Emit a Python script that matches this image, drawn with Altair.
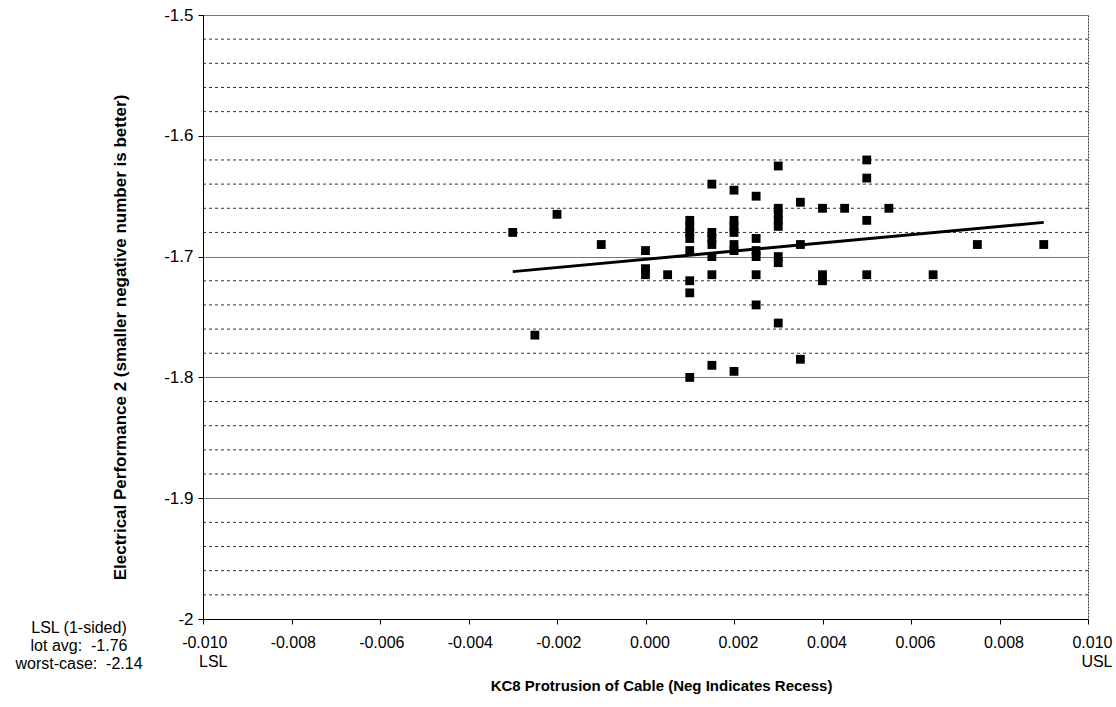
import altair as alt
import pandas as pd

# --- data -------------------------------------------------------------------
protrusion = [
    -0.003, -0.0025, -0.002, -0.001,
    0.000, 0.000, 0.000,
    0.0005,
    0.001, 0.001, 0.001, 0.001, 0.001, 0.001, 0.001, 0.001,
    0.0015, 0.0015, 0.0015, 0.0015, 0.0015, 0.0015, 0.0015,
    0.002, 0.002, 0.002, 0.002, 0.002, 0.002, 0.002,
    0.0025, 0.0025, 0.0025, 0.0025, 0.0025, 0.0025,
    0.003, 0.003, 0.003, 0.003, 0.003, 0.003, 0.003, 0.003,
    0.0035, 0.0035, 0.0035,
    0.004, 0.004, 0.004,
    0.0045,
    0.005, 0.005, 0.005, 0.005,
    0.0055,
    0.0065,
    0.0075,
    0.009,
]
performance = [
    -1.68, -1.765, -1.665, -1.69,
    -1.695, -1.71, -1.715,
    -1.715,
    -1.67, -1.675, -1.68, -1.685, -1.695, -1.72, -1.73, -1.80,
    -1.64, -1.68, -1.685, -1.69, -1.70, -1.715, -1.79,
    -1.645, -1.67, -1.675, -1.68, -1.69, -1.695, -1.795,
    -1.65, -1.685, -1.695, -1.70, -1.715, -1.74,
    -1.625, -1.66, -1.665, -1.67, -1.675, -1.70, -1.705, -1.755,
    -1.655, -1.69, -1.785,
    -1.66, -1.715, -1.72,
    -1.66,
    -1.62, -1.635, -1.67, -1.715,
    -1.66,
    -1.715,
    -1.69,
    -1.69,
]

x_ticks = [-0.010, -0.008, -0.006, -0.004, -0.002, 0.000, 0.002, 0.004, 0.006, 0.008, 0.010]
y_major = [-2.0, -1.9, -1.8, -1.7, -1.6, -1.5]
y_minor = [-1.98, -1.96, -1.94, -1.92, -1.88, -1.86, -1.84, -1.82,
           -1.78, -1.76, -1.74, -1.72, -1.68, -1.66, -1.64, -1.62,
           -1.58, -1.56, -1.54, -1.52]
spec_note = ["LSL (1-sided)", "lot avg: \u00a0-1.76", "worst-case: \u00a0-2.14"]

x_title = "KC8 Protrusion of Cable (Neg Indicates Recess)"
y_title = "Electrical Performance 2 (smaller negative number is better)"

df = pd.DataFrame({"x": protrusion, "y": performance})
grid_df = pd.DataFrame({"g": y_minor})

FONT = "Liberation Sans"
MINUS = "\u2212"
NBSP = "\u00a0"

x_scale = alt.Scale(domain=[-0.010, 0.010], nice=False, zero=False)
y_scale = alt.Scale(domain=[-2.0, -1.5], nice=False, zero=False)

x_label_expr = (
    f"datum.value <= -0.0099 ? [replace(format(datum.value, '.3f'), '{MINUS}', '-'), 'LSL{NBSP}{NBSP}'] : "
    f"datum.value >= 0.0099 ? [format(datum.value, '.3f'), 'USL'] : "
    f"replace(format(datum.value, '.3f'), '{MINUS}', '-')"
)

x_axis = alt.Axis(
    values=x_ticks, title=x_title, grid=False, labelExpr=x_label_expr,
    tickSize=5, tickColor="black", domainColor="black",
    labelAlign="right", labelOffset=24, labelPadding=10,
    labelFontSize=16, labelLineHeight=19,
    titleFontSize=15, titlePadding=9, titleX=458,
    labelFlush=False, labelOverlap=False,
)
y_axis = alt.Axis(
    values=y_major, title=y_title, grid=True, gridColor="#777", gridWidth=1,
    labelExpr="toString(datum.value)",
    tickSize=5, tickColor="black", domainColor="black", labelPadding=5,
    labelFontSize=17, titleFontSize=17, titlePadding=34, titleY=322,
    labelFlush=False, labelOverlap=False,
)

minor = alt.Chart(grid_df).mark_rule(color="#333", strokeDash=[3, 3], strokeWidth=1).encode(
    y=alt.Y("g:Q", scale=y_scale, axis=y_axis)
)

points = alt.Chart(df).mark_square(size=78, color="black", opacity=1).encode(
    x=alt.X("x:Q", scale=x_scale, axis=x_axis),
    y=alt.Y("y:Q", scale=y_scale, axis=y_axis),
)

trend = alt.Chart(df).transform_regression("x", "y").mark_line(
    color="black", strokeWidth=3
).encode(
    x=alt.X("x:Q", scale=x_scale, axis=x_axis),
    y=alt.Y("y:Q", scale=y_scale, axis=y_axis),
)

note = alt.Chart(pd.DataFrame({"t": [0]})).mark_text(
    font=FONT, fontSize=16, align="center", baseline="middle", lineHeight=18, color="black"
).encode(
    x=alt.value(-124), y=alt.value(613), text=alt.value(spec_note)
)

chart = (
    alt.layer(minor, points, trend, note)
    .properties(
        width=885, height=604,
        autosize=alt.AutoSizeParams(type="none"),
        padding={"left": 203, "top": 15, "right": 28, "bottom": 88},
        background="white",
    )
    .configure_view(stroke="#333", strokeDash=[2, 1], strokeWidth=1)
    .configure_axis(
        labelFont=FONT, labelColor="black",
        titleFont=FONT, titleFontWeight="bold", titleColor="black",
    )
)

chart.save("out.html", embed_options={"renderer": "svg", "actions": False})
